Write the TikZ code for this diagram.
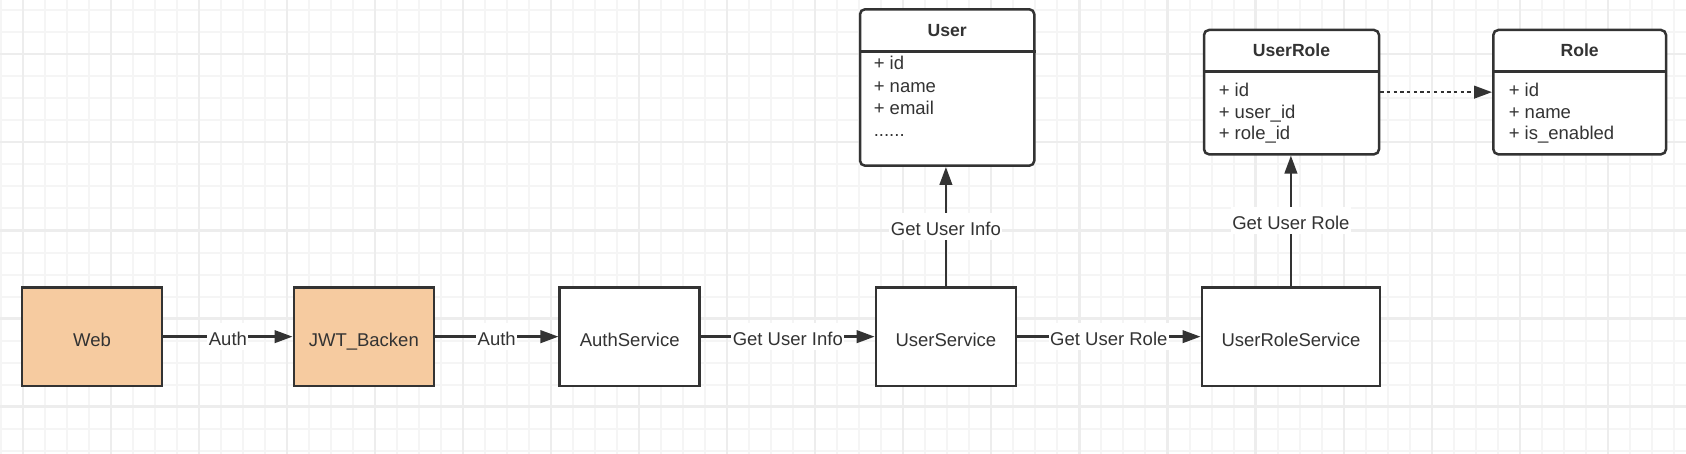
\documentclass[tikz,border=0pt]{standalone}
\usepackage{fontspec}
\setmainfont{Liberation Sans}
\usetikzlibrary{arrows.meta}
\definecolor{ink}{HTML}{333333}
\definecolor{peach}{RGB}{246,203,160}
\definecolor{gridminor}{RGB}{245,245,245}
\definecolor{gridmajor}{RGB}{237,237,237}
\begin{document}
\begin{tikzpicture}[x=1pt,y=-1pt,
  font=\fontsize{18.5}{22}\selectfont,
  minorline/.style={draw=gridminor, line width=2pt},
  majorline/.style={draw=gridmajor, line width=2.2pt},
  box/.style={draw=ink, line width=2.5pt, minimum width=140pt, minimum height=98.7pt, text=ink, text height=18.7pt, text depth=0pt, inner sep=0pt},
  peachbox/.style={box, fill=peach},
  whitebox/.style={box, fill=white},
  classbox/.style={draw=ink, line width=2.5pt, fill=white, rounded corners=5pt, inner sep=0pt},
  sepline/.style={draw=ink, line width=2.5pt},
  arr/.style={draw=ink, line width=2.5pt, -{Triangle[length=18pt,width=12.5pt]}},
  dotarr/.style={arr, dash pattern=on 3.3pt off 3.4pt},
  lbl/.style={fill=white, text=ink, inner xsep=1.5pt, inner ysep=2.85pt, text height=19.5pt, text depth=1.5pt},
  attr/.style={text=ink, anchor=base west, inner sep=0pt},
  ctitle/.style={text=ink, anchor=base, inner sep=0pt, font=\fontsize{17.6}{22}\selectfont\bfseries},
]
\useasboundingbox (0,0) rectangle (1686,454);
\fill[white] (0,0) rectangle (1686,454);
% grid
\foreach \i in {0,...,76} \draw[minorline] ({0.7+22.015*\i},0) -- ({0.7+22.015*\i},454);
\foreach \j in {0,...,20} \draw[minorline] (0,{10.3+22.02*\j}) -- (1686,{10.3+22.02*\j});
\foreach \k in {0,...,18} \draw[majorline] ({22.7+88.06*\k},0) -- ({22.7+88.06*\k},454);
\foreach \k in {0,...,4} \draw[majorline] (0,{54.3+88.06*\k}) -- (1686,{54.3+88.06*\k});

% service boxes
\node[peachbox] (web) at (92,336.65) {Web};
\node[peachbox] (jwt) at (363.8,336.65) {JWT\_Backen};
\node[whitebox] (auth) at (629.7,336.65) {AuthService};
\node[whitebox] (usvc) at (945.9,336.65) {UserService};
\node[whitebox, minimum width=178.3pt] (ursvc) at (1290.9,336.65) {UserRoleService};

% class boxes
\node[classbox, minimum width=174.3pt, minimum height=156.4pt] (user) at (947.15,87.5) {};
\draw[sepline] (user.west |- 0,51.7) -- (user.east |- 0,51.7);
\node[ctitle] (userT) at (947.15,36.7) {User};
\node[attr] (u1) at (873.6,70) {+ id};
\node[attr] (u2) at (873.6,92.3) {+ name};
\node[attr] (u3) at (873.6,114.3) {+ email};
\node[attr] (u4) at (873.6,136.7) {......};

\node[classbox, minimum width=175pt, minimum height=124.3pt] (urole) at (1291.5,92.15) {};
\draw[sepline] (urole.west |- 0,71.7) -- (urole.east |- 0,71.7);
\node[ctitle] (uroleT) at (1291.5,56.7) {UserRole};
\node[attr] (ur1) at (1218.6,96.7) {+ id};
\node[attr] (ur2) at (1218.6,118.3) {+ user\_id};
\node[attr] (ur3) at (1218.6,140) {+ role\_id};

\node[classbox, minimum width=172.7pt, minimum height=124.3pt] (role) at (1579.65,92.15) {};
\draw[sepline] (role.west |- 0,71.7) -- (role.east |- 0,71.7);
\node[ctitle] (roleT) at (1579.65,56.7) {Role};
\node[attr] (r1) at (1508.6,96.7) {+ id};
\node[attr] (r2) at (1508.6,118.3) {+ name};
\node[attr] (r3) at (1508.6,140) {+ is\_enabled};

% connectors
\draw[arr] (web) -- node[lbl] (l1) {Auth} (jwt);
\draw[arr] (jwt) -- node[lbl] (l2) {Auth} (auth);
\draw[arr] (auth) -- node[lbl] (l3) {Get User Info} (usvc);
\draw[arr] (usvc) -- node[lbl] (l4) {Get User Role} (ursvc);
\draw[arr] (usvc.north) -- node[lbl] (l5) {Get User Info} (usvc.north |- user.south);
\draw[arr] (ursvc.north) -- node[lbl] (l6) {Get User Role} (ursvc.north |- urole.south);
\draw[dotarr] (urole) -- (role);
\end{tikzpicture}
\end{document}
